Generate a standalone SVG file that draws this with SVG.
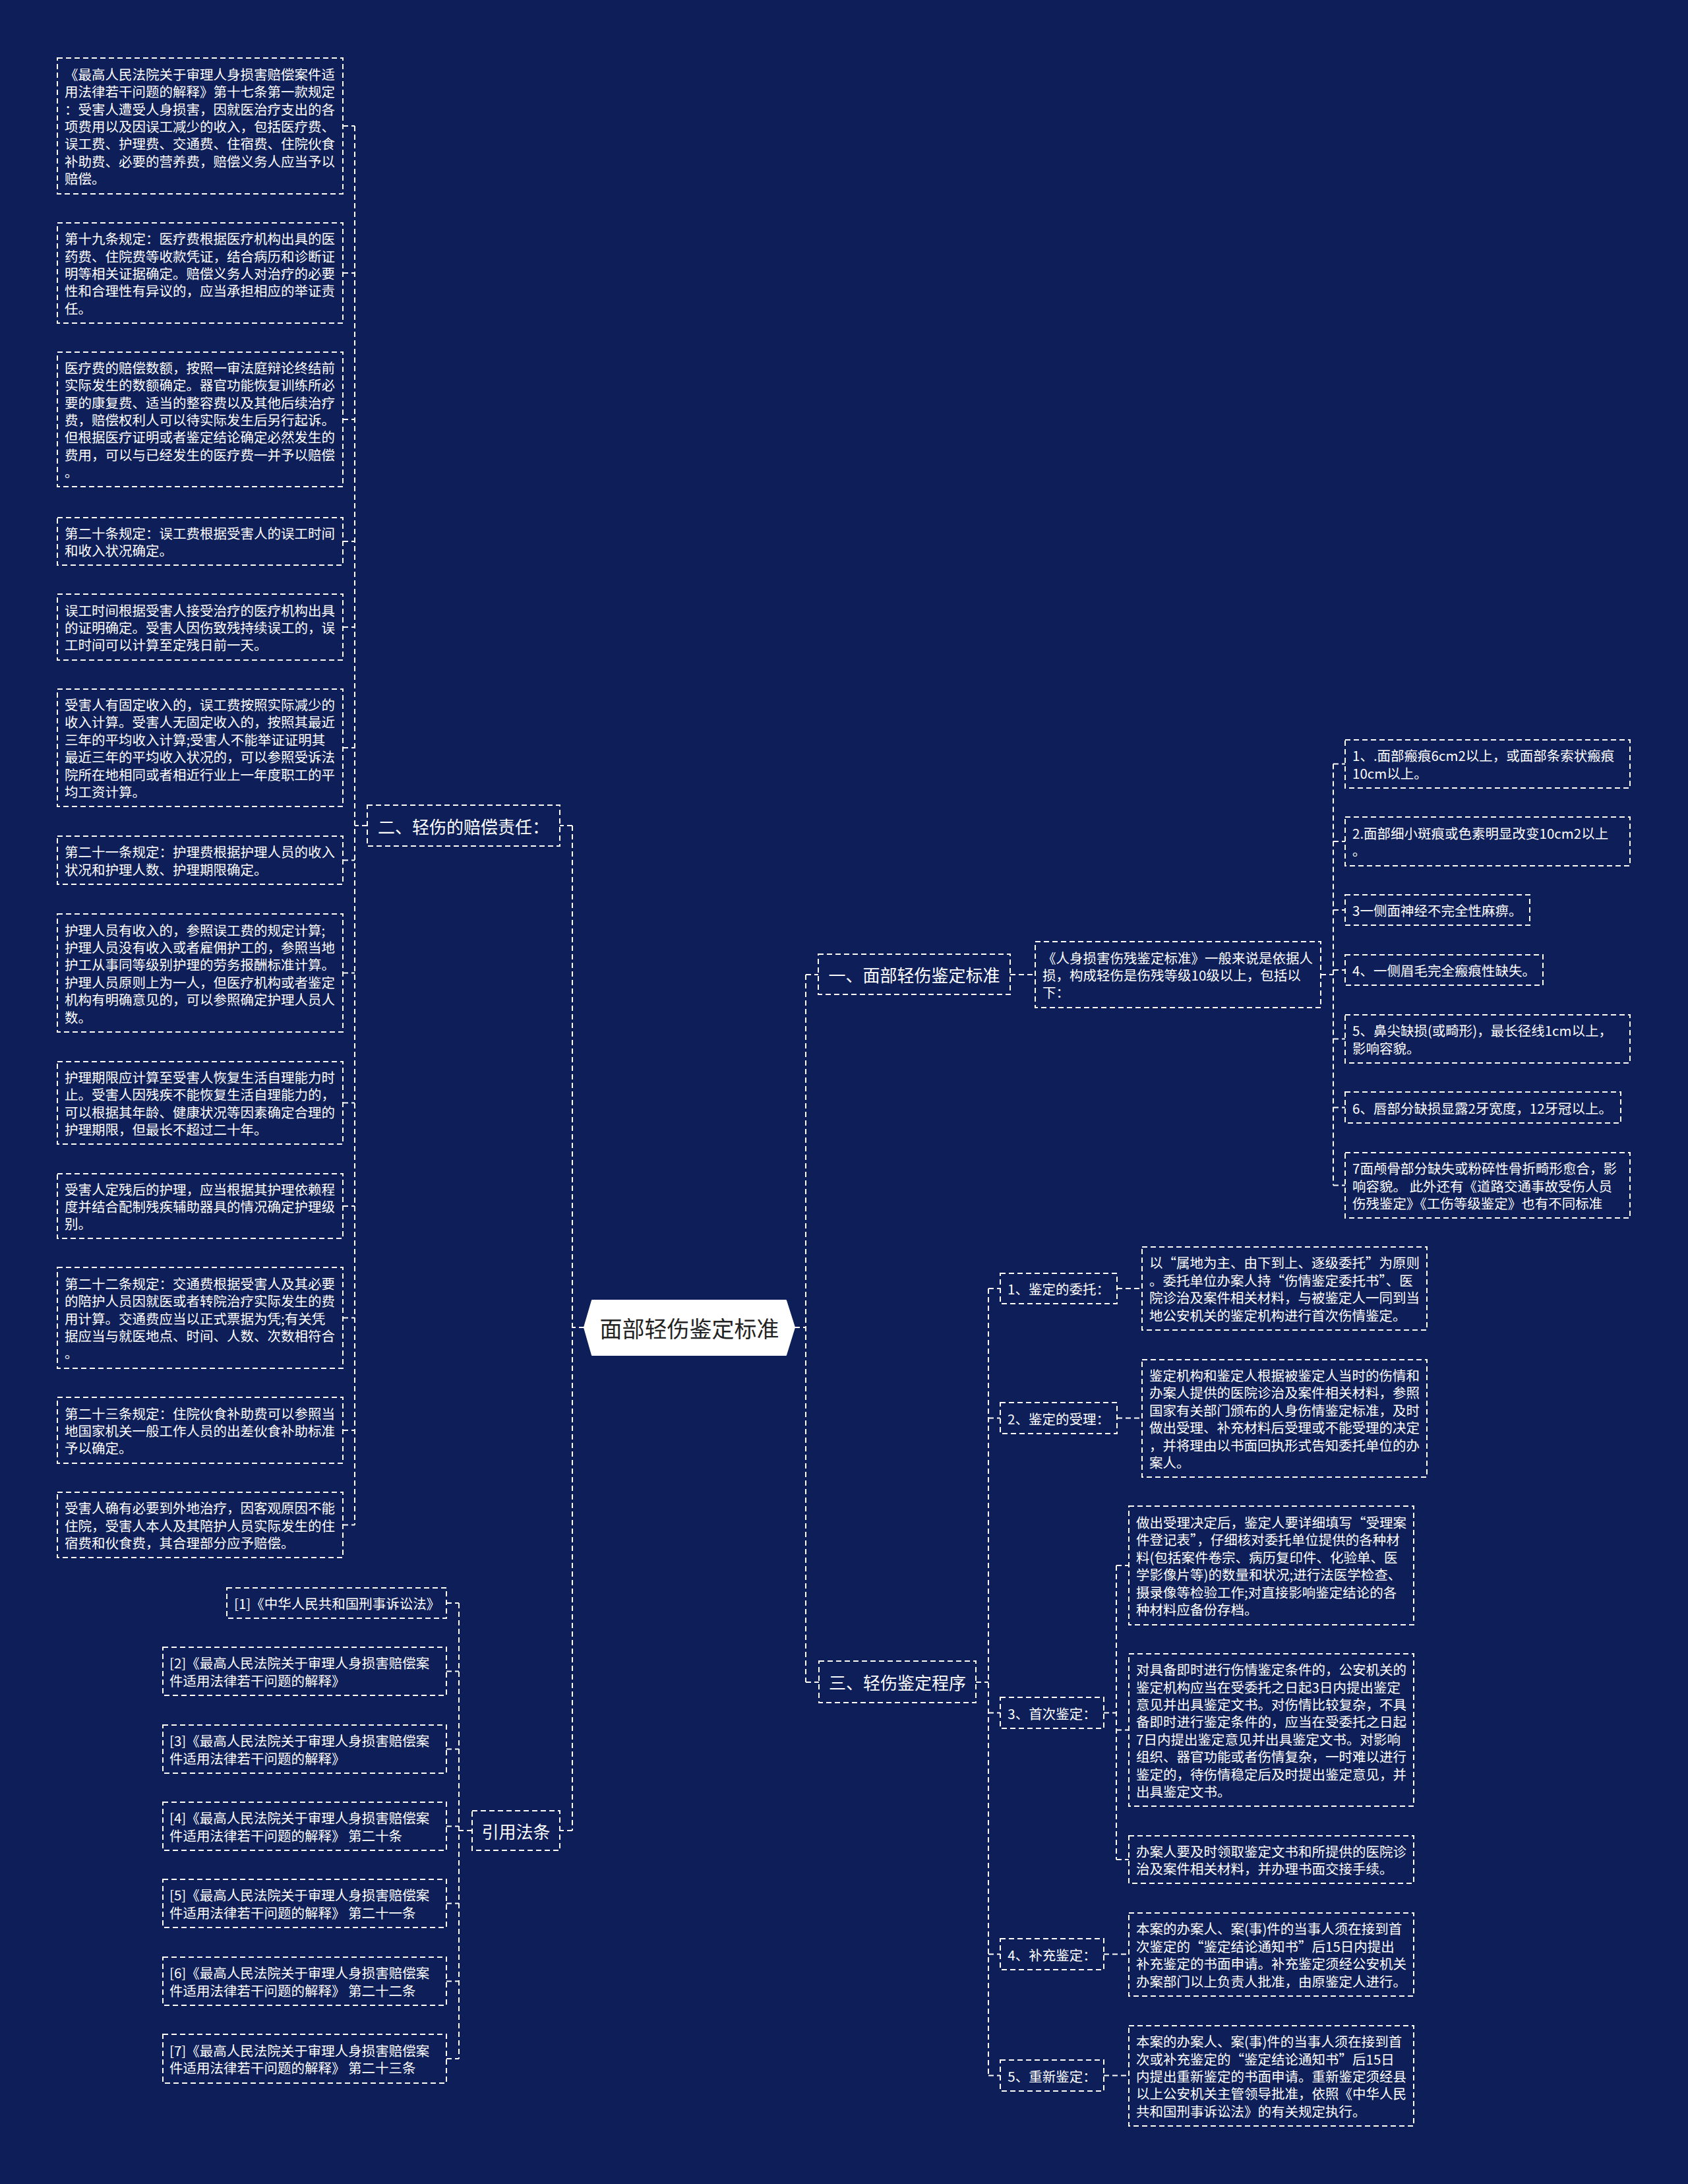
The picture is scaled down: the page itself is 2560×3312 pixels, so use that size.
<svg xmlns="http://www.w3.org/2000/svg" width="2560" height="3312" viewBox="0 0 2560 3312">
<style>
.bx{fill:none;stroke:#ffffff;stroke-width:2;stroke-dasharray:8 5}
.t{font-family:"Noto Sans CJK SC","Microsoft YaHei",sans-serif;font-size:20.5px;fill:#ffffff;dominant-baseline:central}
.l2{font-size:26px;text-anchor:middle}
.lb{text-anchor:middle}
.c{fill:none;stroke:#ffffff;stroke-width:2;stroke-dasharray:8 5}
.root{font-family:"Noto Sans CJK SC","Microsoft YaHei",sans-serif;font-size:34px;fill:#222222;text-anchor:middle;dominant-baseline:central}
</style>
<rect width="2560" height="3312" fill="#0d1e58"/>

<g id="connectors">
<path class="c" d="M886 2013H868M868 1252V2776M868 1252H849M868 2776H849"/>
<path class="c" d="M557 1252H538M538 191V2312.5M520 191H538M520 414H538M520 636H538M520 821H538M520 951H538M520 1134H538M520 1304.5H538M520 1475.5H538M520 1672.5H538M520 1829H538M520 1998.5H538M520 2169H538M520 2312.5H538"/>
<path class="c" d="M716 2776H696M696 2431V3122M677 2431H696M677 2534.5H696M677 2652.5H696M677 2769.5H696M677 2886.5H696M677 3004.5H696M677 3122H696"/>
<path class="c" d="M1205 2013H1222M1222 1478V2551M1222 1478H1241M1222 2551H1242"/>
<path class="c" d="M1532 1478H1570M2003 1478H2022M2022 1158.5V1797.5M2022 1158.5H2040M2022 1276H2040M2022 1380H2040M2022 1471H2040M2022 1575.5H2040M2022 1679.5H2040M2022 1797.5H2040"/>
<path class="c" d="M1480 2551H1499M1499 1954V3147.5M1499 1954H1517M1499 2150.5H1517M1499 2597.5H1517M1499 2963.5H1517M1499 3147.5H1517"/>
<path class="c" d="M1694 1954H1732M1694 2150.5H1732M1674 2597.5H1693M1693 2374V2820M1693 2374H1712M1693 2623.5H1712M1693 2820H1712M1674 2963.5H1712M1674 3147.5H1712"/>
</g>

<g id="root">
<path d="M886 2013L898 1972H1192L1205 2013L1192 2055H898Z" fill="#ffffff" stroke="#ffffff" stroke-width="2" stroke-linejoin="round"/>
<text class="root" x="1045.5" y="2013">面部轻伤鉴定标准</text>
</g>

<g id="n-er">
<rect class="bx" x="557" y="1221" width="292" height="62"/>
<text class="t l2" x="703" y="1252">二、轻伤的赔偿责任：</text>
</g>
<g id="n-yinyong">
<rect class="bx" x="716" y="2746" width="133" height="60"/>
<text class="t l2" x="782.5" y="2776">引用法条</text>
</g>
<g id="n-yi">
<rect class="bx" x="1241" y="1447" width="291" height="61"/>
<text class="t l2" x="1386.5" y="1477.5">一、面部轻伤鉴定标准</text>
</g>
<g id="n-san">
<rect class="bx" x="1242" y="2519" width="238" height="63"/>
<text class="t l2" x="1361" y="2550.5">三、轻伤鉴定程序</text>
</g>

<g id="l1">
<rect class="bx" x="87" y="88" width="433" height="206"/>
<text class="t" x="98"><tspan x="98" y="111.8">《最高人民法院关于审理人身损害赔偿案件适</tspan><tspan x="98" y="138.2">用法律若干问题的解释》第十七条第一款规定</tspan><tspan x="98" y="164.6">：受害人遭受人身损害，因就医治疗支出的各</tspan><tspan x="98" y="191">项费用以及因误工减少的收入，包括医疗费、</tspan><tspan x="98" y="217.4">误工费、护理费、交通费、住宿费、住院伙食</tspan><tspan x="98" y="243.8">补助费、必要的营养费，赔偿义务人应当予以</tspan><tspan x="98" y="270.2">赔偿。</tspan></text>
</g>
<g id="l2">
<rect class="bx" x="87" y="338" width="433" height="152"/>
<text class="t"><tspan x="98" y="361.2">第十九条规定：医疗费根据医疗机构出具的医</tspan><tspan x="98" y="387.6">药费、住院费等收款凭证，结合病历和诊断证</tspan><tspan x="98" y="414">明等相关证据确定。赔偿义务人对治疗的必要</tspan><tspan x="98" y="440.4">性和合理性有异议的，应当承担相应的举证责</tspan><tspan x="98" y="466.8">任。</tspan></text>
</g>
<g id="l3">
<rect class="bx" x="87" y="534" width="433" height="204"/>
<text class="t"><tspan x="98" y="556.8">医疗费的赔偿数额，按照一审法庭辩论终结前</tspan><tspan x="98" y="583.2">实际发生的数额确定。器官功能恢复训练所必</tspan><tspan x="98" y="609.6">要的康复费、适当的整容费以及其他后续治疗</tspan><tspan x="98" y="636">费，赔偿权利人可以待实际发生后另行起诉。</tspan><tspan x="98" y="662.4">但根据医疗证明或者鉴定结论确定必然发生的</tspan><tspan x="98" y="688.8">费用，可以与已经发生的医疗费一并予以赔偿</tspan><tspan x="98" y="715.2">。</tspan></text>
</g>
<g id="l4">
<rect class="bx" x="87" y="785" width="433" height="72"/>
<text class="t"><tspan x="98" y="807.8">第二十条规定：误工费根据受害人的误工时间</tspan><tspan x="98" y="834.2">和收入状况确定。</tspan></text>
</g>
<g id="l5">
<rect class="bx" x="87" y="901" width="433" height="100"/>
<text class="t"><tspan x="98" y="924.6">误工时间根据受害人接受治疗的医疗机构出具</tspan><tspan x="98" y="951">的证明确定。受害人因伤致残持续误工的，误</tspan><tspan x="98" y="977.4">工时间可以计算至定残日前一天。</tspan></text>
</g>
<g id="l6">
<rect class="bx" x="87" y="1045" width="433" height="178"/>
<text class="t"><tspan x="98" y="1068">受害人有固定收入的，误工费按照实际减少的</tspan><tspan x="98" y="1094.4">收入计算。受害人无固定收入的，按照其最近</tspan><tspan x="98" y="1120.8">三年的平均收入计算;受害人不能举证证明其</tspan><tspan x="98" y="1147.2">最近三年的平均收入状况的，可以参照受诉法</tspan><tspan x="98" y="1173.6">院所在地相同或者相近行业上一年度职工的平</tspan><tspan x="98" y="1200">均工资计算。</tspan></text>
</g>
<g id="l7">
<rect class="bx" x="87" y="1268" width="433" height="73"/>
<text class="t"><tspan x="98" y="1291.3">第二十一条规定：护理费根据护理人员的收入</tspan><tspan x="98" y="1317.7">状况和护理人数、护理期限确定。</tspan></text>
</g>
<g id="l8">
<rect class="bx" x="87" y="1386" width="433" height="179"/>
<text class="t"><tspan x="98" y="1409.5">护理人员有收入的，参照误工费的规定计算;</tspan><tspan x="98" y="1435.9">护理人员没有收入或者雇佣护工的，参照当地</tspan><tspan x="98" y="1462.3">护工从事同等级别护理的劳务报酬标准计算。</tspan><tspan x="98" y="1488.7">护理人员原则上为一人，但医疗机构或者鉴定</tspan><tspan x="98" y="1515.1">机构有明确意见的，可以参照确定护理人员人</tspan><tspan x="98" y="1541.5">数。</tspan></text>
</g>
<g id="l9">
<rect class="bx" x="87" y="1610" width="433" height="125"/>
<text class="t"><tspan x="98" y="1632.9">护理期限应计算至受害人恢复生活自理能力时</tspan><tspan x="98" y="1659.3">止。受害人因残疾不能恢复生活自理能力的，</tspan><tspan x="98" y="1685.7">可以根据其年龄、健康状况等因素确定合理的</tspan><tspan x="98" y="1712.1">护理期限，但最长不超过二十年。</tspan></text>
</g>
<g id="l10">
<rect class="bx" x="87" y="1780" width="433" height="98"/>
<text class="t"><tspan x="98" y="1802.6">受害人定残后的护理，应当根据其护理依赖程</tspan><tspan x="98" y="1829">度并结合配制残疾辅助器具的情况确定护理级</tspan><tspan x="98" y="1855.4">别。</tspan></text>
</g>
<g id="l11">
<rect class="bx" x="87" y="1922" width="433" height="153"/>
<text class="t"><tspan x="98" y="1945.7">第二十二条规定：交通费根据受害人及其必要</tspan><tspan x="98" y="1972.1">的陪护人员因就医或者转院治疗实际发生的费</tspan><tspan x="98" y="1998.5">用计算。交通费应当以正式票据为凭;有关凭</tspan><tspan x="98" y="2024.9">据应当与就医地点、时间、人数、次数相符合</tspan><tspan x="98" y="2051.3">。</tspan></text>
</g>
<g id="l12">
<rect class="bx" x="87" y="2119" width="433" height="100"/>
<text class="t"><tspan x="98" y="2142.6">第二十三条规定：住院伙食补助费可以参照当</tspan><tspan x="98" y="2169">地国家机关一般工作人员的出差伙食补助标准</tspan><tspan x="98" y="2195.4">予以确定。</tspan></text>
</g>
<g id="l13">
<rect class="bx" x="87" y="2263" width="433" height="99"/>
<text class="t"><tspan x="98" y="2286.1">受害人确有必要到外地治疗，因客观原因不能</tspan><tspan x="98" y="2312.5">住院，受害人本人及其陪护人员实际发生的住</tspan><tspan x="98" y="2338.9">宿费和伙食费，其合理部分应予赔偿。</tspan></text>
</g>

<g id="r1">
<rect class="bx" x="344" y="2408" width="333" height="46"/>
<text class="t" x="355" y="2431">[1]《中华人民共和国刑事诉讼法》</text>
</g>
<g id="r2">
<rect class="bx" x="247" y="2498" width="430" height="73"/>
<text class="t"><tspan x="257" y="2521.3">[2]《最高人民法院关于审理人身损害赔偿案</tspan><tspan x="257" y="2547.7">件适用法律若干问题的解释》</tspan></text>
</g>
<g id="r3">
<rect class="bx" x="247" y="2616" width="430" height="73"/>
<text class="t"><tspan x="257" y="2639.3">[3]《最高人民法院关于审理人身损害赔偿案</tspan><tspan x="257" y="2665.7">件适用法律若干问题的解释》</tspan></text>
</g>
<g id="r4">
<rect class="bx" x="247" y="2733" width="430" height="73"/>
<text class="t"><tspan x="257" y="2756.3">[4]《最高人民法院关于审理人身损害赔偿案</tspan><tspan x="257" y="2782.7">件适用法律若干问题的解释》 第二十条</tspan></text>
</g>
<g id="r5">
<rect class="bx" x="247" y="2850" width="430" height="73"/>
<text class="t"><tspan x="257" y="2873.3">[5]《最高人民法院关于审理人身损害赔偿案</tspan><tspan x="257" y="2899.7">件适用法律若干问题的解释》 第二十一条</tspan></text>
</g>
<g id="r6">
<rect class="bx" x="247" y="2968" width="430" height="73"/>
<text class="t"><tspan x="257" y="2991.3">[6]《最高人民法院关于审理人身损害赔偿案</tspan><tspan x="257" y="3017.7">件适用法律若干问题的解释》 第二十二条</tspan></text>
</g>
<g id="r7">
<rect class="bx" x="247" y="3085" width="430" height="74"/>
<text class="t"><tspan x="257" y="3108.8">[7]《最高人民法院关于审理人身损害赔偿案</tspan><tspan x="257" y="3135.2">件适用法律若干问题的解释》 第二十三条</tspan></text>
</g>

<g id="std">
<rect class="bx" x="1570" y="1428" width="433" height="100"/>
<text class="t"><tspan x="1581" y="1451.6">《人身损害伤残鉴定标准》一般来说是依据人</tspan><tspan x="1581" y="1478">损，构成轻伤是伤残等级10级以上，包括以</tspan><tspan x="1581" y="1504.4">下：</tspan></text>
</g>
<g id="i1">
<rect class="bx" x="2040" y="1122" width="432" height="73"/>
<text class="t"><tspan x="2051" y="1145.3">1、.面部瘢痕6cm2以上，或面部条索状瘢痕</tspan><tspan x="2051" y="1171.7">10cm以上。</tspan></text>
</g>
<g id="i2">
<rect class="bx" x="2040" y="1239" width="432" height="74"/>
<text class="t"><tspan x="2051" y="1262.8">2.面部细小斑痕或色素明显改变10cm2以上</tspan><tspan x="2051" y="1289.2">。</tspan></text>
</g>
<g id="i3">
<rect class="bx" x="2040" y="1357" width="280" height="46"/>
<text class="t" x="2051" y="1380">3一侧面神经不完全性麻痹。</text>
</g>
<g id="i4">
<rect class="bx" x="2040" y="1448" width="300" height="46"/>
<text class="t" x="2051" y="1471">4、一侧眉毛完全瘢痕性缺失。</text>
</g>
<g id="i5">
<rect class="bx" x="2040" y="1539" width="432" height="73"/>
<text class="t"><tspan x="2051" y="1562.3">5、鼻尖缺损(或畸形)，最长径线1cm以上，</tspan><tspan x="2051" y="1588.7">影响容貌。</tspan></text>
</g>
<g id="i6">
<rect class="bx" x="2040" y="1656" width="418" height="47"/>
<text class="t" x="2051" y="1679.5">6、唇部分缺损显露2牙宽度，12牙冠以上。</text>
</g>
<g id="i7">
<rect class="bx" x="2040" y="1748" width="432" height="99"/>
<text class="t"><tspan x="2051" y="1771.1">7面颅骨部分缺失或粉碎性骨折畸形愈合，影</tspan><tspan x="2051" y="1797.5">响容貌。 此外还有《道路交通事故受伤人员</tspan><tspan x="2051" y="1823.9">伤残鉴定》《工伤等级鉴定》也有不同标准</tspan></text>
</g>

<g id="p1">
<rect class="bx" x="1517" y="1931" width="177" height="46"/>
<text class="t lb" x="1605.5" y="1954">1、鉴定的委托：</text>
</g>
<g id="p1c">
<rect class="bx" x="1732" y="1891" width="432" height="126"/>
<text class="t"><tspan x="1743" y="1914.4">以“属地为主、由下到上、逐级委托”为原则</tspan><tspan x="1743" y="1940.8">。委托单位办案人持“伤情鉴定委托书”、医</tspan><tspan x="1743" y="1967.2">院诊治及案件相关材料，与被鉴定人一同到当</tspan><tspan x="1743" y="1993.6">地公安机关的鉴定机构进行首次伤情鉴定。</tspan></text>
</g>
<g id="p2">
<rect class="bx" x="1517" y="2127" width="177" height="47"/>
<text class="t lb" x="1605.5" y="2150.5">2、鉴定的受理：</text>
</g>
<g id="p2c">
<rect class="bx" x="1732" y="2062" width="432" height="178"/>
<text class="t"><tspan x="1743" y="2085">鉴定机构和鉴定人根据被鉴定人当时的伤情和</tspan><tspan x="1743" y="2111.4">办案人提供的医院诊治及案件相关材料，参照</tspan><tspan x="1743" y="2137.8">国家有关部门颁布的人身伤情鉴定标准，及时</tspan><tspan x="1743" y="2164.2">做出受理、补充材料后受理或不能受理的决定</tspan><tspan x="1743" y="2190.6">，并将理由以书面回执形式告知委托单位的办</tspan><tspan x="1743" y="2217">案人。</tspan></text>
</g>
<g id="p3">
<rect class="bx" x="1517" y="2574" width="157" height="47"/>
<text class="t lb" x="1595.5" y="2597.5">3、首次鉴定：</text>
</g>
<g id="p3a">
<rect class="bx" x="1712" y="2284" width="432" height="180"/>
<text class="t"><tspan x="1723" y="2308">做出受理决定后，鉴定人要详细填写“受理案</tspan><tspan x="1723" y="2334.4">件登记表”，仔细核对委托单位提供的各种材</tspan><tspan x="1723" y="2360.8">料(包括案件卷宗、病历复印件、化验单、医</tspan><tspan x="1723" y="2387.2">学影像片等)的数量和状况;进行法医学检查、</tspan><tspan x="1723" y="2413.6">摄录像等检验工作;对直接影响鉴定结论的各</tspan><tspan x="1723" y="2440">种材料应备份存档。</tspan></text>
</g>
<g id="p3b">
<rect class="bx" x="1712" y="2508" width="432" height="231"/>
<text class="t"><tspan x="1723" y="2531.1">对具备即时进行伤情鉴定条件的，公安机关的</tspan><tspan x="1723" y="2557.5">鉴定机构应当在受委托之日起3日内提出鉴定</tspan><tspan x="1723" y="2583.9">意见并出具鉴定文书。对伤情比较复杂，不具</tspan><tspan x="1723" y="2610.3">备即时进行鉴定条件的，应当在受委托之日起</tspan><tspan x="1723" y="2636.7">7日内提出鉴定意见并出具鉴定文书。对影响</tspan><tspan x="1723" y="2663.1">组织、器官功能或者伤情复杂，一时难以进行</tspan><tspan x="1723" y="2689.5">鉴定的，待伤情稳定后及时提出鉴定意见，并</tspan><tspan x="1723" y="2715.9">出具鉴定文书。</tspan></text>
</g>
<g id="p3c">
<rect class="bx" x="1712" y="2784" width="432" height="72"/>
<text class="t"><tspan x="1723" y="2806.8">办案人要及时领取鉴定文书和所提供的医院诊</tspan><tspan x="1723" y="2833.2">治及案件相关材料，并办理书面交接手续。</tspan></text>
</g>
<g id="p4">
<rect class="bx" x="1517" y="2940" width="157" height="47"/>
<text class="t lb" x="1595.5" y="2963.5">4、补充鉴定：</text>
</g>
<g id="p4c">
<rect class="bx" x="1712" y="2901" width="432" height="126"/>
<text class="t"><tspan x="1723" y="2924.4">本案的办案人、案(事)件的当事人须在接到首</tspan><tspan x="1723" y="2950.8">次鉴定的“鉴定结论通知书”后15日内提出</tspan><tspan x="1723" y="2977.2">补充鉴定的书面申请。补充鉴定须经公安机关</tspan><tspan x="1723" y="3003.6">办案部门以上负责人批准，由原鉴定人进行。</tspan></text>
</g>
<g id="p5">
<rect class="bx" x="1517" y="3124" width="157" height="47"/>
<text class="t lb" x="1595.5" y="3147.5">5、重新鉴定：</text>
</g>
<g id="p5c">
<rect class="bx" x="1712" y="3072" width="432" height="152"/>
<text class="t"><tspan x="1723" y="3095.2">本案的办案人、案(事)件的当事人须在接到首</tspan><tspan x="1723" y="3121.6">次或补充鉴定的“鉴定结论通知书”后15日</tspan><tspan x="1723" y="3148">内提出重新鉴定的书面申请。重新鉴定须经县</tspan><tspan x="1723" y="3174.4">以上公安机关主管领导批准，依照《中华人民</tspan><tspan x="1723" y="3200.8">共和国刑事诉讼法》的有关规定执行。</tspan></text>
</g>
</svg>
